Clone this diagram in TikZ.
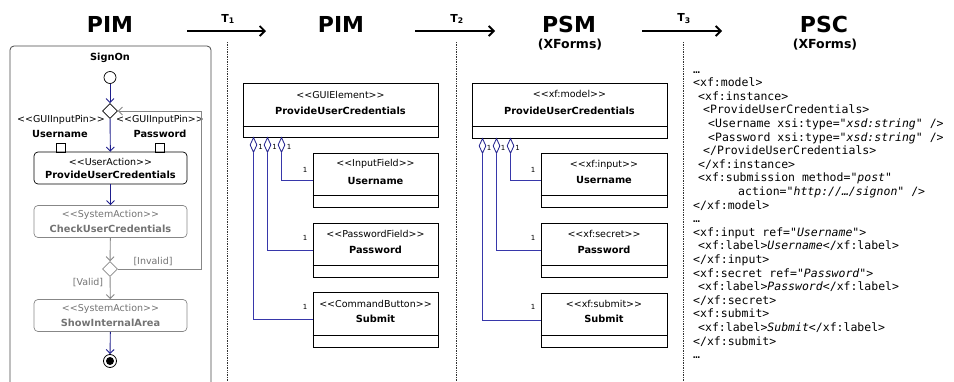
\documentclass[tikz,border=0pt]{standalone}
\usepackage{fontspec}
\setmainfont{DejaVu Sans}
\newfontfamily\codefont{DejaVu Sans Mono}[ItalicFont=* Oblique]
\usetikzlibrary{arrows.meta,shapes.geometric}
\definecolor{navy}{RGB}{30,30,140}
\definecolor{aggblue}{RGB}{55,55,170}
\definecolor{gline}{RGB}{135,135,135}
\definecolor{gtext}{RGB}{115,115,115}
\definecolor{framec}{RGB}{70,70,70}
\newcommand{\stereo}[1]{<{}<#1>{}>}
\begin{document}
\begin{tikzpicture}[x=1pt,y=-1pt,
  title/.style={font=\fontsize{22}{26}\selectfont\bfseries, anchor=base, inner sep=0pt},
  subt/.style={font=\fontsize{12.5}{15}\selectfont\bfseries, anchor=base, inner sep=0pt},
  tlab/.style={font=\fontsize{11}{13}\selectfont\bfseries, inner sep=0pt},
  trarrow/.style={line width=1.8pt, -{Straight Barb[length=5pt,width=10pt]}},
  sepline/.style={densely dotted, line width=0.7pt, black!80},
  action/.style={draw, rounded corners=4pt, minimum width=153pt, minimum height=32pt, inner sep=0pt, line width=0.7pt},
  ster/.style={font=\fontsize{9.5}{11}\selectfont, inner sep=0pt},
  nm/.style={font=\fontsize{9.8}{12}\selectfont\bfseries, inner sep=0pt},
  flow/.style={navy, line width=0.9pt, -{Straight Barb[length=4pt,width=8pt]}},
  gflow/.style={gline, line width=0.9pt, -{Straight Barb[length=4pt,width=8pt]}},
  dec/.style={draw, diamond, minimum width=15pt, minimum height=15pt, inner sep=0pt, line width=0.7pt},
  pinbox/.style={draw, minimum size=9pt, inner sep=0pt, line width=0.7pt},
  cls/.style={draw, inner sep=0pt, line width=0.8pt},
  aggd/.style={draw=navy, diamond, minimum width=7pt, minimum height=15pt, inner sep=0pt, line width=0.8pt, fill=white, anchor=north},
  aggline/.style={draw=aggblue, line width=1pt},
  one/.style={font=\fontsize{7}{8}\selectfont, inner sep=0pt},
  code/.style={font=\codefont\fontsize{11.5}{13}\selectfont, anchor=base west, inner sep=0pt}
]
\useasboundingbox (0,0) rectangle (954,381);

% ---------- titles and transformations ----------
\node[title] (h1) at (110,32) {PIM};
\node[title] (h2) at (341,32) {PIM};
\node[title] (h3) at (569,32) {PSM};
\node[subt] (h3s) at (570,48) {(XForms)};
\node[title] (h4) at (824,32) {PSC};
\node[subt] (h4s) at (825,48) {(XForms)};

\coordinate (t1s) at (187,31); \coordinate (t1e) at (266,31);
\coordinate (t2s) at (415,31); \coordinate (t2e) at (495,31);
\coordinate (t3s) at (642,31); \coordinate (t3e) at (722,31);
\draw[trarrow] (t1s) -- (t1e);
\draw[trarrow] (t2s) -- (t2e);
\draw[trarrow] (t3s) -- (t3e);
\node[tlab] (tl1) at (228,19) {T\textsubscript{1}};
\node[tlab] (tl2) at (457,19) {T\textsubscript{2}};
\node[tlab] (tl3) at (684,19) {T\textsubscript{3}};

\coordinate (s1a) at (227,42); \coordinate (s1b) at (227,381);
\coordinate (s2a) at (456,42); \coordinate (s2b) at (456,381);
\coordinate (s3a) at (683,42); \coordinate (s3b) at (683,381);
\draw[sepline] (s1a) -- (s1b);
\draw[sepline] (s2a) -- (s2b);
\draw[sepline] (s3a) -- (s3b);

% ---------- activity diagram ----------
\draw[framec, line width=0.8pt, rounded corners=4pt] (10,382) -- (10,46) -- (211,46) -- (211,382);
\node[nm] (signon) at (110,58) {SignOn};
\node[draw, circle, minimum size=12pt, inner sep=0pt, line width=0.7pt] (init) at (110,77.5) {};
\node[dec] (d1) at (110,111) {};
\draw[flow] (init) -- (d1);

\node[ster] (pl1) at (61,120) {\stereo{GUIInputPin}};
\node[ster] (pl2) at (160,120) {\stereo{GUIInputPin}};
\node[nm] (pu) at (60,134) {Username};
\node[nm] (pp) at (160,134) {Password};
\node[pinbox] (pin1) at (60.5,147.5) {};
\node[pinbox] (pin2) at (160,147.5) {};

\node[action] (a1) at (110.5,168) {};
\node[ster] (a1s) at (110.5,161.5) {\stereo{UserAction}};
\node[nm] (a1n) at (110.5,175) {ProvideUserCredentials};
\draw[flow] (d1) -- (a1);

\node[action, draw=gline] (a2) at (110.5,221.5) {};
\node[ster, gtext] (a2s) at (110.5,215) {\stereo{SystemAction}};
\node[nm, gtext] (a2n) at (110.5,229) {CheckUserCredentials};
\draw[flow] (a1) -- (a2);

\node[dec, draw=gline] (d2) at (110,269) {};
\draw[gflow] (a2) -- (d2);

\node[action, draw=gline] (a3) at (110.5,315.5) {};
\node[ster, gtext] (a3s) at (110.5,309) {\stereo{SystemAction}};
\node[nm, gtext] (a3n) at (110.5,323) {ShowInternalArea};
\draw[gflow] (d2) -- (a3);

\node[draw, circle, minimum size=13pt, inner sep=0pt, line width=0.8pt] (fin) at (110,361) {};
\node[circle, fill, minimum size=8pt, inner sep=0pt] (finin) at (fin.center) {};
\draw[flow] (a3) -- (fin);

\coordinate (lp1) at (201,269); \coordinate (lp2) at (201,111);
\draw[gflow] (d2.east) -- (lp1) -- (lp2) -- (d1.east);
\node[ster, gtext] (inv) at (153,262) {[Invalid]};
\node[ster, gtext] (val) at (88,283) {[Valid]};

% ---------- PIM class diagram ----------
\node[cls, minimum width=195pt, minimum height=54pt] (g1) at (340.5,110) {};
\draw (g1.west |- 0,126) -- (g1.east |- 0,126);
\node[ster] (g1s) at (340.5,94.5) {\stereo{GUIElement}};
\node[nm] (g1n) at (340.5,111) {ProvideUserCredentials};

\node[cls, minimum width=125pt, minimum height=54pt] (u2) at (375.5,180) {};
\draw (u2.west |- 0,195) -- (u2.east |- 0,195);
\node[ster] (u2s) at (375.5,164) {\stereo{InputField}};
\node[nm] (u2n) at (375.5,180.5) {Username};

\node[cls, minimum width=125pt, minimum height=54pt] (p2) at (375.5,250) {};
\draw (p2.west |- 0,265) -- (p2.east |- 0,265);
\node[ster] (p2s) at (375.5,234) {\stereo{PasswordField}};
\node[nm] (p2n) at (375.5,250) {Password};

\node[cls, minimum width=125pt, minimum height=55pt] (b2) at (375.5,319.5) {};
\draw (b2.west |- 0,335) -- (b2.east |- 0,335);
\node[ster] (b2s) at (375.5,303.5) {\stereo{CommandButton}};
\node[nm] (b2n) at (375.5,319) {Submit};

\node[aggd] (ag21) at (253.5,137) {};
\node[aggd] (ag22) at (267.5,137) {};
\node[aggd] (ag23) at (281.5,137) {};
\draw[aggline] (ag23.south) |- (u2.west);
\draw[aggline] (ag22.south) |- (p2.west);
\draw[aggline] (ag21.south) |- (b2.west);
\node[one] (o21) at (260.5,147) {1};
\node[one] (o22) at (274.5,147) {1};
\node[one] (o23) at (289,147) {1};
\node[one] (o24) at (305,170) {1};
\node[one] (o25) at (305,238) {1};
\node[one] (o26) at (305,307) {1};

% ---------- PSM class diagram ----------
\node[cls, minimum width=195pt, minimum height=55pt] (g3) at (569.5,110.5) {};
\draw (g3.west |- 0,126) -- (g3.east |- 0,126);
\node[ster] (g3s) at (569.5,94) {\stereo{xf:model}};
\node[nm] (g3n) at (569.5,111) {ProvideUserCredentials};

\node[cls, minimum width=126pt, minimum height=54pt] (u3) at (604,180) {};
\draw (u3.west |- 0,195) -- (u3.east |- 0,195);
\node[ster] (u3s) at (604,164.5) {\stereo{xf:input}};
\node[nm] (u3n) at (604,180) {Username};

\node[cls, minimum width=126pt, minimum height=54pt] (p3) at (604,250) {};
\draw (p3.west |- 0,265) -- (p3.east |- 0,265);
\node[ster] (p3s) at (604,234) {\stereo{xf:secret}};
\node[nm] (p3n) at (604,250) {Password};

\node[cls, minimum width=126pt, minimum height=54pt] (b3) at (604,320) {};
\draw (b3.west |- 0,335) -- (b3.east |- 0,335);
\node[ster] (b3s) at (604,304) {\stereo{xf:submit}};
\node[nm] (b3n) at (604,319) {Submit};

\node[aggd] (ag31) at (482.5,138) {};
\node[aggd] (ag32) at (496.5,138) {};
\node[aggd] (ag33) at (510.5,138) {};
\draw[aggline] (ag33.south) |- (u3.west);
\draw[aggline] (ag32.south) |- (p3.west);
\draw[aggline] (ag31.south) |- (b3.west);
\node[one] (o31) at (489,148) {1};
\node[one] (o32) at (503,148) {1};
\node[one] (o33) at (517.5,148) {1};
\node[one] (o34) at (533,170) {1};
\node[one] (o35) at (533,238) {1};
\node[one] (o36) at (533,307) {1};

% ---------- PSC code ----------
\node[code] (c0)  at (693,73.0)  {…};
\node[code] (c1)  at (693,86.6)  {<xf:model>};
\node[code] (c2)  at (698,100.2) {<xf:instance>};
\node[code] (c3)  at (703,113.8) {<ProvideUserCredentials>};
\node[code] (c4)  at (708,127.4) {<Username xsi:type="\textit{xsd:string}" />};
\node[code] (c5)  at (708,141.0) {<Password xsi:type="\textit{xsd:string}" />};
\node[code] (c6)  at (703,154.6) {</ProvideUserCredentials>};
\node[code] (c7)  at (698,168.2) {</xf:instance>};
\node[code] (c8)  at (698,181.8) {<xf:submission method="\textit{post}"};
\node[code] (c9)  at (738,195.4) {action="\textit{http://…/signon}" />};
\node[code] (c10) at (693,209.0) {</xf:model>};
\node[code] (c11) at (693,222.6) {…};
\node[code] (c12) at (693,236.2) {<xf:input ref="\textit{Username}">};
\node[code] (c13) at (698,249.8) {<xf:label>\textit{Username}</xf:label>};
\node[code] (c14) at (693,263.4) {</xf:input>};
\node[code] (c15) at (693,277.0) {<xf:secret ref="\textit{Password}">};
\node[code] (c16) at (698,290.6) {<xf:label>\textit{Password}</xf:label>};
\node[code] (c17) at (693,304.2) {</xf:secret>};
\node[code] (c18) at (693,317.8) {<xf:submit>};
\node[code] (c19) at (698,331.4) {<xf:label>\textit{Submit}</xf:label>};
\node[code] (c20) at (693,345.0) {</xf:submit>};
\node[code] (c21) at (693,358.6) {…};
\end{tikzpicture}
\end{document}
